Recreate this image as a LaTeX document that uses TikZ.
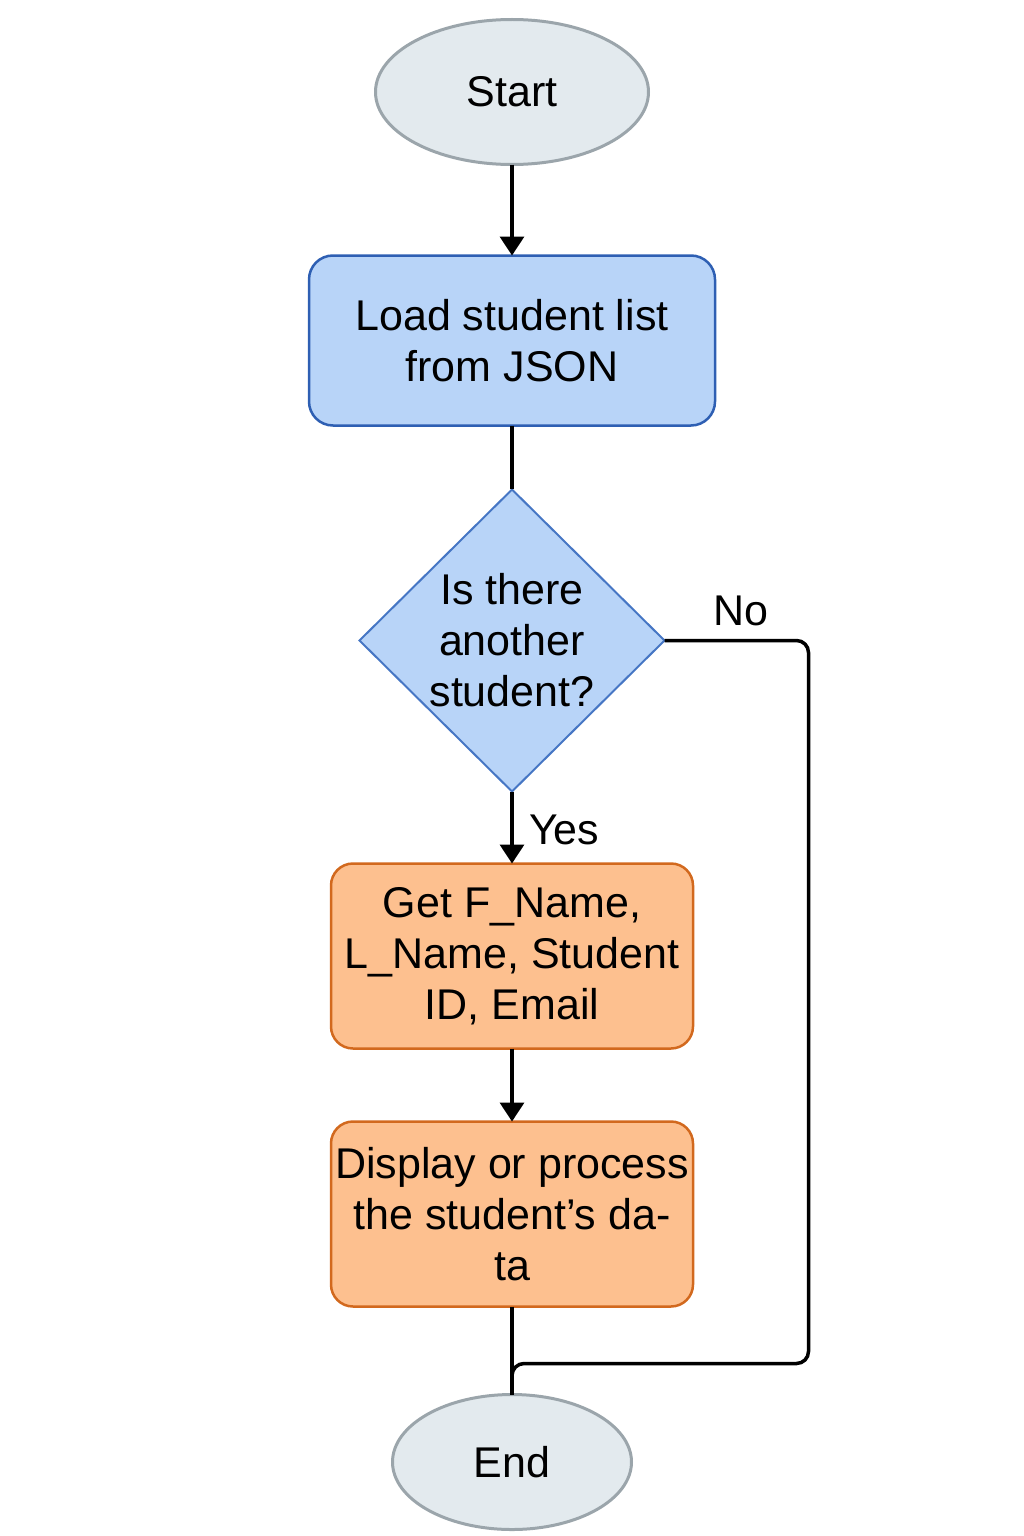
\documentclass[tikz,border=0pt]{standalone}
\usepackage{fontspec}
\setmainfont{Liberation Sans}
\usetikzlibrary{shapes.geometric, arrows.meta, positioning}
\definecolor{termfill}{HTML}{E3EAEE}
\definecolor{termline}{HTML}{9BA5AB}
\definecolor{bluefill}{HTML}{B8D4F8}
\definecolor{blueline}{HTML}{2E5FB3}
\definecolor{diamline}{HTML}{4676C4}
\definecolor{orangefill}{HTML}{FDC08F}
\definecolor{orangeline}{HTML}{D2691E}

\begin{document}
\begin{tikzpicture}[
  x=1pt, y=1pt,
  every node/.style={font=\fontsize{43}{51}\selectfont},
  terminal/.style={ellipse, draw=termline, fill=termfill, line width=3pt,
    inner sep=0pt, outer sep=0pt},
  loadbox/.style={rectangle, rounded corners=24pt, draw=blueline, fill=bluefill,
    line width=2.5pt, minimum width=406pt, minimum height=170pt, align=center, outer sep=0pt},
  decision/.style={diamond, aspect=1, draw=diamline, fill=bluefill, line width=2pt,
    minimum width=305pt, minimum height=302pt, inner sep=0pt, align=center, outer sep=0pt},
  stepbox/.style={rectangle, rounded corners=22pt, draw=orangeline, fill=orangefill,
    line width=2.5pt, minimum width=362pt, minimum height=185pt, align=center, outer sep=0pt},
  arr/.style={-{Triangle[width=24pt, length=19pt]}, line width=3.5pt, black},
  conn/.style={line width=3.5pt, black}
]
\useasboundingbox (0,0) rectangle (1024,-1536);

% ===== NODES =====
\node[terminal, minimum width=273pt, minimum height=145pt] (start) at (512,-92) {Start};
\node[loadbox, below=91pt of start] (load) {Load student list\\from JSON};
\node[decision, below=64pt of load] (dec) {Is there\\another\\student?};
\node[stepbox, below=72pt of dec] (get) {Get F\_Name,\\L\_Name, Student\\ID, Email};
\node[stepbox, below=73pt of get] (disp) {Display or process\\the student’s da-\\ta};
\node[terminal, minimum width=239pt, minimum height=135pt, below=88pt of disp] (end) {End};

% ===== HELPER POINTS =====
\coordinate[right=144pt of dec.east] (nocorner);
\coordinate[below=57pt of disp.south] (merge);

% ===== CONNECTORS =====
\draw[arr] (start) -- (load);
\draw[conn] (load) -- (dec);
\draw[arr] (dec) -- node[right, xshift=12pt, yshift=-2pt]{Yes} (get);
\draw[arr] (get) -- (disp);
\draw[conn] (disp) -- (end);
\draw[conn, rounded corners=12pt] (dec.east) -- node[above, xshift=4pt, yshift=10pt]{No} (nocorner) |- (merge) -- (end.north);
\end{tikzpicture}
\end{document}
